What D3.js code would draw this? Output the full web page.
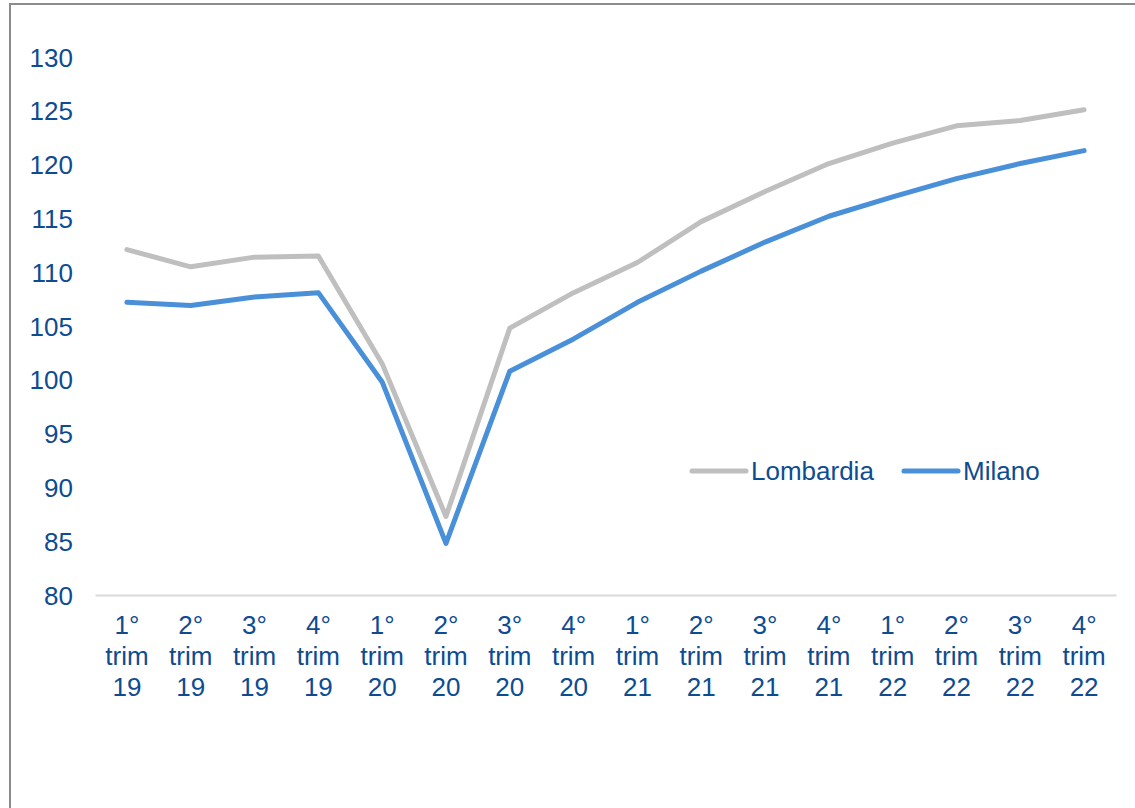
<!DOCTYPE html>
<html><head><meta charset="utf-8">
<script src="https://cdn.jsdelivr.net/npm/d3@7"></script>
<style>
html,body{margin:0;padding:0;background:#fff;}
svg{display:block;}
text{font-family:"Liberation Sans",Arial,sans-serif;fill:#0e4c92;}
</style></head>
<body>
<svg id="c" width="1135" height="808"></svg>
<script>
const categories = [
  ["1°","trim","19"],["2°","trim","19"],["3°","trim","19"],["4°","trim","19"],
  ["1°","trim","20"],["2°","trim","20"],["3°","trim","20"],["4°","trim","20"],
  ["1°","trim","21"],["2°","trim","21"],["3°","trim","21"],["4°","trim","21"],
  ["1°","trim","22"],["2°","trim","22"],["3°","trim","22"],["4°","trim","22"]
];
const lombardia = [112.1,110.5,111.4,111.5,101.5,87.3,104.8,108.1,110.9,114.7,117.5,120.1,122.0,123.6,124.1,125.1];
const milano    = [107.2,106.9,107.7,108.1,99.8,84.8,100.8,103.8,107.2,110.1,112.8,115.2,117.0,118.7,120.1,121.3];
const yTicks = [80,85,90,95,100,105,110,115,120,125,130];
const seriesNames = ["Lombardia","Milano"];
const seriesColors = ["#bfbfbf","#4a90d9"];

const FS = 26;
const svg = d3.select("#c");
// outer frame
svg.append("rect").attr("x",10).attr("y",4).attr("width",1140).attr("height",820)
  .attr("fill","none").attr("stroke","#8c8c8c").attr("stroke-width",2);

const keys = categories.map((c,i)=>i);
const x = d3.scaleBand().domain(keys).range([95,1116]);
const y = d3.scaleLinear().domain([80,130]).range([595,57]);

// y axis labels
const ya = svg.append("g").attr("transform","translate(73,0)")
  .call(d3.axisLeft(y).tickValues(yTicks).tickSize(0).tickPadding(0));
ya.select(".domain").remove();
ya.selectAll("text").attr("font-size",FS).attr("font-family","Liberation Sans, Arial, sans-serif")
  .attr("fill","#0e4c92").attr("dy","0.35em");

// x axis
const xa = svg.append("g").attr("transform","translate(0,595)")
  .call(d3.axisBottom(x).tickSize(0).tickFormat(""));
xa.select(".domain").attr("stroke","#d9d9d9").attr("stroke-width",2);
xa.selectAll(".tick").each(function(d){
  const t = d3.select(this).append("text").attr("text-anchor","middle")
    .attr("font-size",FS).attr("fill","#0e4c92");
  categories[d].forEach((s,j)=>{
    t.append("tspan").attr("x",0).attr("y",39+j*31).text(s);
  });
});

const cx = i => x(i)+x.bandwidth()/2;
const line = d3.line().x((d,i)=>cx(i)).y(d=>y(d));
[lombardia,milano].forEach((s,k)=>{
  svg.append("path").datum(s).attr("d",line).attr("fill","none")
    .attr("stroke",seriesColors[k]).attr("stroke-width",5)
    .attr("stroke-linejoin","round").attr("stroke-linecap","round");
});

// legend
const legX = [692,904];
seriesNames.forEach((n,k)=>{
  const g = svg.append("g").attr("transform",`translate(${legX[k]},471)`);
  g.append("line").attr("x1",0).attr("x2",54).attr("y1",0).attr("y2",0)
    .attr("stroke",seriesColors[k]).attr("stroke-width",5).attr("stroke-linecap","round");
  g.append("text").attr("x",59).attr("y",0).attr("dy","0.35em").attr("font-size",FS).text(n);
});
</script>
</body></html>
